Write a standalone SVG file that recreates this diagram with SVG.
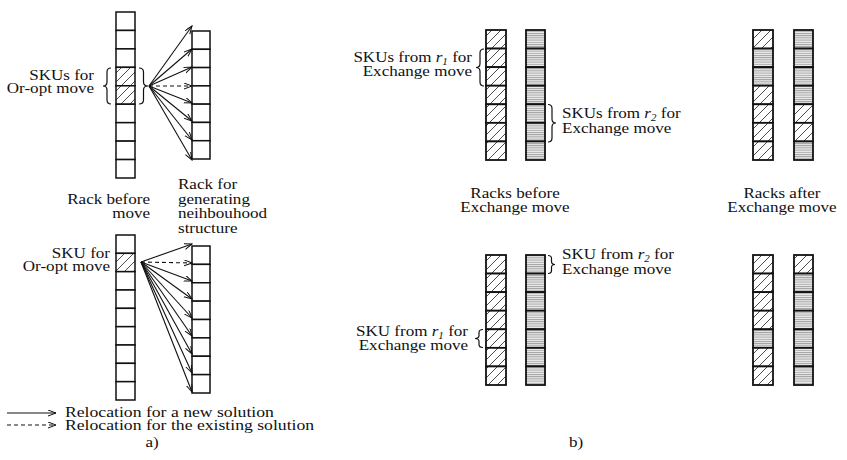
<svg xmlns="http://www.w3.org/2000/svg" width="847" height="460" viewBox="0 0 847 460">
<defs>
<pattern id="hatch" patternUnits="userSpaceOnUse" width="9" height="9">
<rect width="9" height="9" fill="#fff"/>
<path d="M-1,1 L1,-1 M0,9 L9,0 M8,10 L10,8" stroke="#3a3a3a" stroke-width="0.9"/>
</pattern>
<pattern id="stripe" patternUnits="userSpaceOnUse" width="4" height="2.2">
<rect width="4" height="2.2" fill="#ececec"/>
<line x1="0" y1="0.5" x2="4" y2="0.5" stroke="#9a9a9a" stroke-width="0.9"/>
</pattern>
<marker id="ah" markerUnits="userSpaceOnUse" markerWidth="9" markerHeight="7" refX="8" refY="3" orient="auto">
<path d="M0,0 L8,3 L0,6" fill="none" stroke="#111" stroke-width="1" stroke-dasharray="none"/>
</marker>
</defs>
<style>
.t{font-family:"Liberation Serif","Times New Roman",serif;font-size:15.5px;fill:#111}
.i{font-style:italic}
.sub{font-style:italic;font-size:10px}
.c{fill:#fff;stroke:#111;stroke-width:1.5}
.cb{stroke:#111;stroke-width:1.8}
.h{fill:url(#hatch)}
.s{fill:url(#stripe)}
.br{fill:none;stroke:#111;stroke-width:1.2}
.ar{fill:none;stroke:#111;stroke-width:1.1;marker-end:url(#ah)}
.da{stroke-dasharray:4,3}
</style>
<rect width="847" height="460" fill="#fff"/>

<!-- Panel a, top -->
<g id="rack-a-top-before">
<rect class="c" x="116" y="12" width="19" height="18.44"/>
<rect class="c" x="116" y="30.44" width="19" height="18.44"/>
<rect class="c" x="116" y="48.89" width="19" height="18.44"/>
<rect class="c h" x="116" y="67.33" width="19" height="18.44"/>
<rect class="c h" x="116" y="85.78" width="19" height="18.44"/>
<rect class="c" x="116" y="104.22" width="19" height="18.44"/>
<rect class="c" x="116" y="122.67" width="19" height="18.44"/>
<rect class="c" x="116" y="141.11" width="19" height="18.44"/>
<rect class="c" x="116" y="159.56" width="19" height="18.44"/>
<path class="br" d="M111,68 Q107,68 107,72 L107,82 Q107,86 103,86 Q107,86 107,90 L107,100 Q107,104 111,104"/>
<path class="br" d="M139,68 Q143.5,68 143.5,72 L143.5,82 Q143.5,86 148,86 Q143.5,86 143.5,90 L143.5,100 Q143.5,104 139,104"/>
<g transform="translate(94,80) scale(1.1,1)"><text class="t" text-anchor="end">SKUs for</text></g>
<g transform="translate(94,93) scale(1.1,1)"><text class="t" text-anchor="end">Or-opt move</text></g>
<g transform="translate(150,204) scale(1.1,1)"><text class="t" text-anchor="end">Rack before</text></g>
<g transform="translate(150,218) scale(1.1,1)"><text class="t" text-anchor="end">move</text></g>
</g>

<g id="rack-a-top-neighbourhood">
<rect class="c" x="192" y="31" width="18" height="18.29"/>
<rect class="c" x="192" y="49.29" width="18" height="18.29"/>
<rect class="c" x="192" y="67.57" width="18" height="18.29"/>
<rect class="c" x="192" y="85.86" width="18" height="18.29"/>
<rect class="c" x="192" y="104.14" width="18" height="18.29"/>
<rect class="c" x="192" y="122.43" width="18" height="18.29"/>
<rect class="c" x="192" y="140.71" width="18" height="18.29"/>
<g transform="translate(178,189) scale(1.1,1)"><text class="t">Rack for</text></g>
<g transform="translate(178,204) scale(1.1,1)"><text class="t">generating</text></g>
<g transform="translate(178,218) scale(1.1,1)"><text class="t">neihbouhood</text></g>
<g transform="translate(178,233) scale(1.1,1)"><text class="t">structure</text></g>
</g>

<!-- Panel a, bottom -->
<g id="rack-a-bottom-before">
<rect class="c" x="116" y="235" width="19" height="18.33"/>
<rect class="c h" x="116" y="253.33" width="19" height="18.33"/>
<rect class="c" x="116" y="271.67" width="19" height="18.33"/>
<rect class="c" x="116" y="290" width="19" height="18.33"/>
<rect class="c" x="116" y="308.33" width="19" height="18.33"/>
<rect class="c" x="116" y="326.67" width="19" height="18.33"/>
<rect class="c" x="116" y="345" width="19" height="18.33"/>
<rect class="c" x="116" y="363.33" width="19" height="18.33"/>
<rect class="c" x="116" y="381.67" width="19" height="18.33"/>
<g transform="translate(110,258) scale(1.1,1)"><text class="t" text-anchor="end">SKU for</text></g>
<g transform="translate(110,271) scale(1.1,1)"><text class="t" text-anchor="end">Or-opt move</text></g>
</g>

<g id="rack-a-bottom-neighbourhood">
<rect class="c" x="192" y="246" width="18" height="18.375"/>
<rect class="c" x="192" y="264.375" width="18" height="18.375"/>
<rect class="c" x="192" y="282.75" width="18" height="18.375"/>
<rect class="c" x="192" y="301.125" width="18" height="18.375"/>
<rect class="c" x="192" y="319.5" width="18" height="18.375"/>
<rect class="c" x="192" y="337.875" width="18" height="18.375"/>
<rect class="c" x="192" y="356.25" width="18" height="18.375"/>
<rect class="c" x="192" y="374.625" width="18" height="18.375"/>
</g>

<g id="connectors">
<line class="ar" x1="149" y1="86" x2="192" y2="26"/>
<line class="ar" x1="149" y1="86" x2="192" y2="49"/>
<line class="ar" x1="149" y1="86" x2="192" y2="67"/>
<line class="ar da" x1="149" y1="86" x2="192" y2="86"/>
<line class="ar" x1="149" y1="86" x2="192" y2="103"/>
<line class="ar" x1="149" y1="86" x2="192" y2="121"/>
<line class="ar" x1="149" y1="86" x2="192" y2="140"/>
<line class="ar" x1="149" y1="86" x2="192" y2="160"/>

<line class="ar" x1="141" y1="262" x2="192" y2="244"/>
<line class="ar da" x1="141" y1="262" x2="192" y2="263"/>
<line class="ar" x1="141" y1="262" x2="192" y2="281"/>
<line class="ar" x1="141" y1="262" x2="192" y2="299"/>
<line class="ar" x1="141" y1="262" x2="192" y2="318"/>
<line class="ar" x1="141" y1="262" x2="192" y2="336"/>
<line class="ar" x1="141" y1="262" x2="192" y2="354"/>
<line class="ar" x1="141" y1="262" x2="192" y2="373"/>
<line class="ar" x1="141" y1="262" x2="192" y2="392"/>

<line class="ar" x1="7" y1="413" x2="56" y2="413"/>
<line class="ar da" x1="7" y1="425" x2="56" y2="425"/>
</g>

<g id="legend">
<g transform="translate(65,417) scale(1.14,1)"><text class="t">Relocation for a new solution</text></g>
<g transform="translate(65,430) scale(1.14,1)"><text class="t">Relocation for the existing solution</text></g>
<g transform="translate(152,447) scale(1.1,1)"><text class="t" text-anchor="middle">a)</text></g>
<g transform="translate(576,447) scale(1.1,1)"><text class="t" text-anchor="middle">b)</text></g>
</g>

<!-- Panel b, top, before -->
<g id="rack-b-top-before-r1">
<rect class="cb h" x="486" y="30" width="20" height="18.57"/>
<rect class="cb h" x="486" y="48.57" width="20" height="18.57"/>
<rect class="cb h" x="486" y="67.14" width="20" height="18.57"/>
<rect class="cb h" x="486" y="85.71" width="20" height="18.57"/>
<rect class="cb h" x="486" y="104.29" width="20" height="18.57"/>
<rect class="cb h" x="486" y="122.86" width="20" height="18.57"/>
<rect class="cb h" x="486" y="141.43" width="20" height="18.57"/>
<path class="br" d="M484,49 Q480,49 480,53 L480,63.5 Q480,67.5 476,67.5 Q480,67.5 480,71.5 L480,82 Q480,86 484,86"/>
<g transform="translate(472,62) scale(1.1,1)"><text class="t" text-anchor="end">SKUs from <tspan class="i">r</tspan><tspan class="sub" dy="3">1</tspan><tspan dy="-3"> for</tspan></text></g>
<g transform="translate(472,76) scale(1.1,1)"><text class="t" text-anchor="end">Exchange move</text></g>
</g>
<g id="rack-b-top-before-r2">
<rect class="cb s" x="526" y="30" width="19" height="18.57"/>
<rect class="cb s" x="526" y="48.57" width="19" height="18.57"/>
<rect class="cb s" x="526" y="67.14" width="19" height="18.57"/>
<rect class="cb s" x="526" y="85.71" width="19" height="18.57"/>
<rect class="cb s" x="526" y="104.29" width="19" height="18.57"/>
<rect class="cb s" x="526" y="122.86" width="19" height="18.57"/>
<rect class="cb s" x="526" y="141.43" width="19" height="18.57"/>
<path class="br" d="M548,104.5 Q552,104.5 552,108.5 L552,119 Q552,123 556,123 Q552,123 552,127 L552,138 Q552,142 548,142"/>
<g transform="translate(562,118) scale(1.1,1)"><text class="t">SKUs from <tspan class="i">r</tspan><tspan class="sub" dy="3">2</tspan><tspan dy="-3"> for</tspan></text></g>
<g transform="translate(562,133) scale(1.1,1)"><text class="t">Exchange move</text></g>
</g>
<g id="label-b-before">
<g transform="translate(515,198) scale(1.1,1)"><text class="t" text-anchor="middle">Racks before</text></g>
<g transform="translate(515,212) scale(1.1,1)"><text class="t" text-anchor="middle">Exchange move</text></g>
</g>

<!-- Panel b, top, after -->
<g id="rack-b-top-after-r1">
<rect class="cb h" x="753" y="30" width="20" height="18.57"/>
<rect class="cb s" x="753" y="48.57" width="20" height="18.57"/>
<rect class="cb s" x="753" y="67.14" width="20" height="18.57"/>
<rect class="cb h" x="753" y="85.71" width="20" height="18.57"/>
<rect class="cb h" x="753" y="104.29" width="20" height="18.57"/>
<rect class="cb h" x="753" y="122.86" width="20" height="18.57"/>
<rect class="cb h" x="753" y="141.43" width="20" height="18.57"/>
</g>
<g id="rack-b-top-after-r2">
<rect class="cb s" x="794" y="30" width="19" height="18.57"/>
<rect class="cb s" x="794" y="48.57" width="19" height="18.57"/>
<rect class="cb s" x="794" y="67.14" width="19" height="18.57"/>
<rect class="cb s" x="794" y="85.71" width="19" height="18.57"/>
<rect class="cb h" x="794" y="104.29" width="19" height="18.57"/>
<rect class="cb h" x="794" y="122.86" width="19" height="18.57"/>
<rect class="cb s" x="794" y="141.43" width="19" height="18.57"/>
</g>
<g id="label-b-after">
<g transform="translate(782,198) scale(1.1,1)"><text class="t" text-anchor="middle">Racks after</text></g>
<g transform="translate(782,212) scale(1.1,1)"><text class="t" text-anchor="middle">Exchange move</text></g>
</g>

<!-- Panel b, bottom, before -->
<g id="rack-b-bottom-before-r1">
<rect class="cb h" x="486" y="255" width="20" height="18.57"/>
<rect class="cb h" x="486" y="273.57" width="20" height="18.57"/>
<rect class="cb h" x="486" y="292.14" width="20" height="18.57"/>
<rect class="cb h" x="486" y="310.71" width="20" height="18.57"/>
<rect class="cb h" x="486" y="329.29" width="20" height="18.57"/>
<rect class="cb h" x="486" y="347.86" width="20" height="18.57"/>
<rect class="cb h" x="486" y="366.43" width="20" height="18.57"/>
<path class="br" d="M483,329.5 Q479,329.5 479,332.5 L479,335.5 Q479,338.5 475,338.5 Q479,338.5 479,341.5 L479,344.5 Q479,347.5 483,347.5"/>
<g transform="translate(468,336) scale(1.1,1)"><text class="t" text-anchor="end">SKU from <tspan class="i">r</tspan><tspan class="sub" dy="3">1</tspan><tspan dy="-3"> for</tspan></text></g>
<g transform="translate(468,350) scale(1.1,1)"><text class="t" text-anchor="end">Exchange move</text></g>
</g>
<g id="rack-b-bottom-before-r2">
<rect class="cb s" x="526" y="255" width="19" height="18.57"/>
<rect class="cb s" x="526" y="273.57" width="19" height="18.57"/>
<rect class="cb s" x="526" y="292.14" width="19" height="18.57"/>
<rect class="cb s" x="526" y="310.71" width="19" height="18.57"/>
<rect class="cb s" x="526" y="329.29" width="19" height="18.57"/>
<rect class="cb s" x="526" y="347.86" width="19" height="18.57"/>
<rect class="cb s" x="526" y="366.43" width="19" height="18.57"/>
<path class="br" d="M548,255.5 Q551.5,255.5 551.5,258.5 L551.5,261.5 Q551.5,264.5 555,264.5 Q551.5,264.5 551.5,267.5 L551.5,270.5 Q551.5,273.5 548,273.5"/>
<g transform="translate(562,259) scale(1.1,1)"><text class="t">SKU from <tspan class="i">r</tspan><tspan class="sub" dy="3">2</tspan><tspan dy="-3"> for</tspan></text></g>
<g transform="translate(562,274) scale(1.1,1)"><text class="t">Exchange move</text></g>
</g>

<!-- Panel b, bottom, after -->
<g id="rack-b-bottom-after-r1">
<rect class="cb h" x="753" y="255" width="20" height="18.57"/>
<rect class="cb h" x="753" y="273.57" width="20" height="18.57"/>
<rect class="cb h" x="753" y="292.14" width="20" height="18.57"/>
<rect class="cb h" x="753" y="310.71" width="20" height="18.57"/>
<rect class="cb s" x="753" y="329.29" width="20" height="18.57"/>
<rect class="cb h" x="753" y="347.86" width="20" height="18.57"/>
<rect class="cb h" x="753" y="366.43" width="20" height="18.57"/>
</g>
<g id="rack-b-bottom-after-r2">
<rect class="cb h" x="794" y="255" width="19" height="18.57"/>
<rect class="cb s" x="794" y="273.57" width="19" height="18.57"/>
<rect class="cb s" x="794" y="292.14" width="19" height="18.57"/>
<rect class="cb s" x="794" y="310.71" width="19" height="18.57"/>
<rect class="cb s" x="794" y="329.29" width="19" height="18.57"/>
<rect class="cb s" x="794" y="347.86" width="19" height="18.57"/>
<rect class="cb s" x="794" y="366.43" width="19" height="18.57"/>
</g>
</svg>
